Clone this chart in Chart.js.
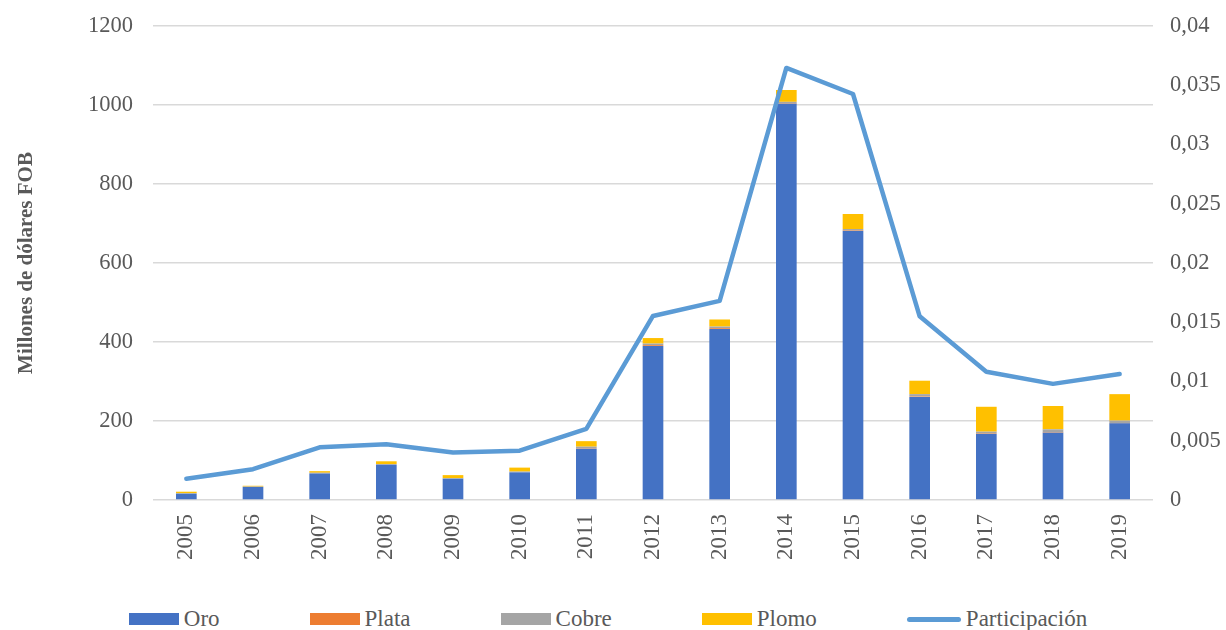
<!DOCTYPE html>
<html lang="es">
<head>
<meta charset="utf-8">
<script src="https://cdn.jsdelivr.net/npm/chart.js@4.4.1/dist/chart.umd.min.js"></script>
<style>
    body { margin: 0; background: #fff; font-family: "Liberation Serif", "Times New Roman", serif; }
    .wrap { position: relative; width: 1226px; height: 630px; }
    #chartBox { position: absolute; left: 0; top: 0; width: 1226px; height: 600px; }
    #legend { position: absolute; left: 0; top: 600px; width: 1226px; height: 38px;
              display: flex; justify-content: center; align-items: center; gap: 90px;
              padding-right: 10px; box-sizing: border-box; font-size: 23px; color: #595959; }
    .legend-item { display: flex; align-items: center; gap: 5px; white-space: nowrap; }
    .legend-box { width: 50px; height: 12px; }
    .legend-line { width: 54px; height: 5px; border-radius: 3px; }
</style>
</head>
<body>
<div class="wrap">
    <div id="chartBox"><canvas id="mineriaChart" width="1226" height="600"></canvas></div>
    <div id="legend"></div>
</div>
<script>
// Data
const years = ['2005', '2006', '2007', '2008', '2009', '2010', '2011', '2012', '2013', '2014', '2015', '2016', '2017', '2018', '2019'];
const oro = [16, 33, 67, 89, 54, 70, 130, 390, 433, 1003, 681, 261, 167, 170, 194];
const plata = [0, 0, 0, 0, 0, 0, 1, 2, 2, 1, 1, 1, 1, 1, 1];
const cobre = [1, 1, 2, 2, 1, 2, 4, 4, 4, 4, 4, 6, 5, 8, 6];
const plomo = [4, 2, 4, 7, 8, 10, 14, 14, 18, 30, 38, 34, 63, 59, 67];
const participacion = [0.0018, 0.0026, 0.00445, 0.0047, 0.0040, 0.00416, 0.0060, 0.01553, 0.0168, 0.03646, 0.03426, 0.0155, 0.01083, 0.0098, 0.01063];

const leftTicks = [0, 200, 400, 600, 800, 1000, 1200];
const rightTicks = [0, 0.005, 0.01, 0.015, 0.02, 0.025, 0.03, 0.035, 0.04];

const colors = {
    oro: '#4472C4',
    plata: '#ED7D31',
    cobre: '#A5A5A5',
    plomo: '#FFC000',
    participacion: '#5B9BD5',
    grid: '#D9D9D9',
    text: '#595959'
};

const serif = '"Liberation Serif", "Times New Roman", serif';

function barSet(label, values, color) {
    return {
        type: 'bar',
        label: label,
        data: values,
        backgroundColor: color,
        borderWidth: 0,
        barPercentage: 0.31,
        categoryPercentage: 1,
        yAxisID: 'y',
        order: 1
    };
}

// vertical axes: fixed width, and no extra top/bottom padding from tick labels
function fixAxis(width) {
    return scale => {
        scale.width = width;
        scale.paddingTop = 0;
        scale.paddingBottom = 0;
    };
}

function buildLegend(items) {
    const legend = document.getElementById('legend');
    legend.innerHTML = items.map(item => `
        <div class="legend-item">
            <div class="${item.line ? 'legend-line' : 'legend-box'}" style="background:${item.color}"></div>
            <span>${item.label}</span>
        </div>
    `).join('');
}

document.addEventListener('DOMContentLoaded', function() {
    const ctx = document.getElementById('mineriaChart');

    new Chart(ctx, {
        data: {
            labels: years,
            datasets: [
                barSet('Oro', oro, colors.oro),
                barSet('Plata', plata, colors.plata),
                barSet('Cobre', cobre, colors.cobre),
                barSet('Plomo', plomo, colors.plomo),
                {
                    type: 'line',
                    label: 'Participación',
                    data: participacion,
                    borderColor: colors.participacion,
                    backgroundColor: colors.participacion,
                    borderWidth: 4.5,
                    borderCapStyle: 'round',
                    borderJoinStyle: 'round',
                    pointRadius: 0,
                    tension: 0,
                    fill: false,
                    yAxisID: 'y1',
                    order: 0
                }
            ]
        },
        options: {
            responsive: false,
            animation: false,
            layout: { padding: { top: 26, left: 0, right: 0, bottom: 0 } },
            plugins: {
                legend: { display: false },
                tooltip: { enabled: false }
            },
            scales: {
                x: {
                    stacked: true,
                    grid: { display: false, drawTicks: false },
                    border: { display: false },
                    ticks: {
                        color: colors.text,
                        font: { family: serif, size: 23 },
                        minRotation: 90,
                        maxRotation: 90,
                        padding: 14
                    },
                    afterFit: scale => { scale.height = 100; }
                },
                y: {
                    stacked: true,
                    position: 'left',
                    min: 0,
                    max: 1200,
                    afterBuildTicks: scale => { scale.ticks = leftTicks.map(v => ({ value: v })); },
                    grid: { color: colors.grid, lineWidth: 1.5, drawTicks: false },
                    border: { display: false },
                    ticks: {
                        color: colors.text,
                        font: { family: serif, size: 22.5 },
                        padding: 20,
                        callback: value => String(value)
                    },
                    title: {
                        display: true,
                        text: 'Millones de dólares FOB',
                        color: colors.text,
                        font: { family: serif, size: 21, weight: 'bold' },
                        padding: { top: 14, bottom: 0 }
                    },
                    afterFit: fixAxis(153)
                },
                y1: {
                    position: 'right',
                    min: 0,
                    max: 0.04,
                    afterBuildTicks: scale => { scale.ticks = rightTicks.map(v => ({ value: v })); },
                    grid: { drawOnChartArea: false, drawTicks: false },
                    border: { display: false },
                    ticks: {
                        color: colors.text,
                        font: { family: serif, size: 22.5 },
                        padding: 17,
                        callback: value => String(+value.toFixed(3)).replace('.', ',')
                    },
                    afterFit: fixAxis(73)
                }
            }
        }
    });

    buildLegend([
        { label: 'Oro', color: colors.oro },
        { label: 'Plata', color: colors.plata },
        { label: 'Cobre', color: colors.cobre },
        { label: 'Plomo', color: colors.plomo },
        { label: 'Participación', color: colors.participacion, line: true }
    ]);
});
</script>
</body>
</html>
